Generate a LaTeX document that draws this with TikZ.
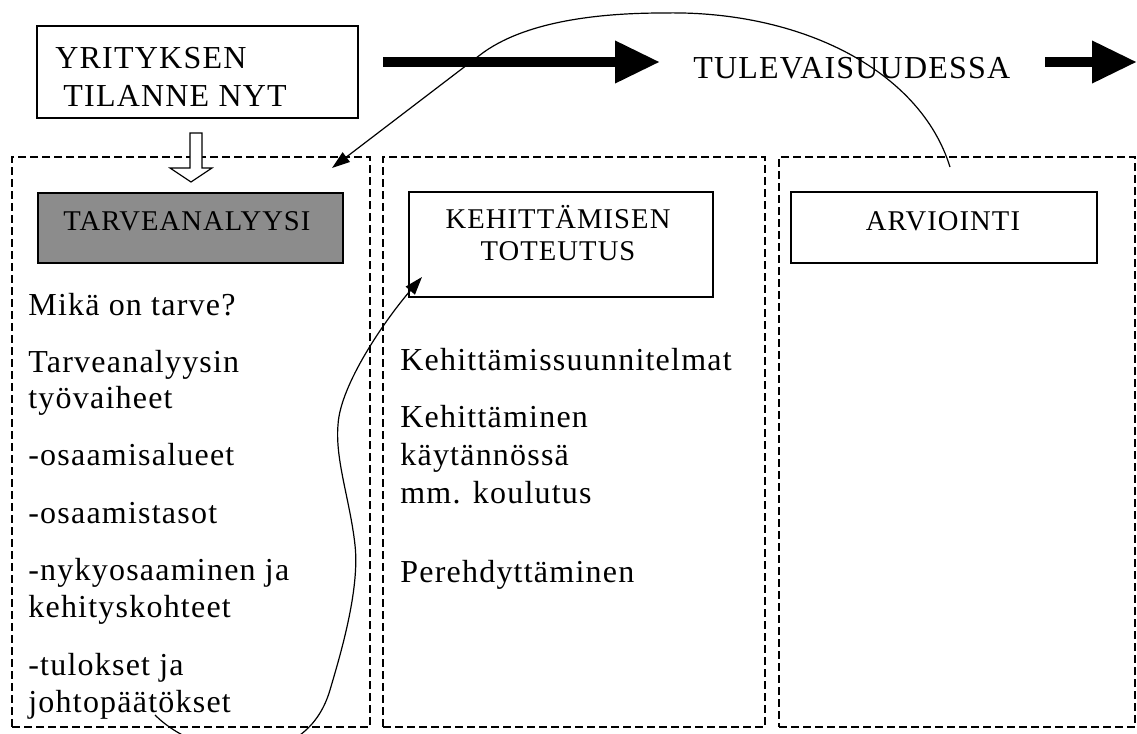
\documentclass[tikz,border=0pt]{standalone}
\usepackage{fontspec}
\setmainfont{Liberation Serif}[LetterSpace=3.8]
\usetikzlibrary{arrows.meta}

\begin{document}
\begin{tikzpicture}[x=0.5pt,y=-0.5pt]
        \tikzstyle{frame}=[draw=black,line width=0.7pt,dash pattern=on 4pt off 2pt,inner sep=0pt]
        \tikzstyle{box}=[draw=black,line width=0.7pt,inner sep=0pt]
        \tikzstyle{body}=[inner sep=0pt,anchor=base west,font=\fontsize{16}{19}\selectfont]
        \tikzstyle{title}=[inner sep=0pt,anchor=base,font=\fontsize{14.3}{17}\selectfont]
        \tikzstyle{bigarrow}=[line width=5pt,-{Triangle[length=22.5pt,width=20pt]}]
        \tikzstyle{thin}=[line width=0.6pt,-{Triangle[length=9pt,width=6pt]}]

        \useasboundingbox (0,0) rectangle (1137,734);

        % the three columns
        \node [frame, minimum width=179pt, minimum height=285pt] (left) at (191,442) {};
        \node [frame, minimum width=191pt, minimum height=285pt] (mid) at (574,442) {};
        \node [frame, minimum width=178pt, minimum height=285pt] (right) at (957,442) {};

        % boxes
        \node [box, minimum width=160.5pt, minimum height=46pt] (now) at (197.5,72) {};
        \node [box, fill=black!45, minimum width=152.5pt, minimum height=35pt] (need) at (190.5,228) {};
        \node [box, minimum width=152pt, minimum height=52.5pt] (dev) at (561,244.5) {};
        \node [box, minimum width=153pt, minimum height=35.5pt] (eval) at (944,227.5) {};

        \node [body] (now1) at (55,68) {YRITYKSEN};
        \node [body] (now2) at (63,106) {TILANNE NYT};
        \node [body] (future) at (693,78) {TULEVAISUUDESSA};
        \node [title] (needtxt) at (187,230) {TARVEANALYYSI};
        \node [title] (dev1) at (558,228) {KEHITTÄMISEN};
        \node [title] (dev2) at (558,260) {TOTEUTUS};
        \node [title] (evaltxt) at (943,230) {ARVIOINTI};

        % column texts
        \foreach \yy/\txt [count=\i] in {315/Mikä on tarve?, 372/Tarveanalyysin, 408/työvaiheet,
            465/-osaamisalueet, 523/-osaamistasot, 580/-nykyosaaminen ja, 617/kehityskohteet,
            675/-tulokset ja, 712/johtopäätökset}
          \node [body] (l\i) at (28,\yy) {\txt};
        \foreach \yy/\txt [count=\i] in {370/Kehittämissuunnitelmat, 427/Kehittäminen,
            465/käytännössä, 503/mm. koulutus, 582/Perehdyttäminen}
          \node [body] (m\i) at (400,\yy) {\txt};

        % thick arrows
        \coordinate (a1s) at (383,62);
        \coordinate (a1e) at (660,62);
        \coordinate (a2s) at (1045,62);
        \coordinate (a2e) at (1137,62);
        \draw [bigarrow] (a1s) -- (a1e);
        \draw [bigarrow] (a2s) -- (a2e);

        % hollow arrow down
        \draw [line width=0.6pt, fill=white] (190,133) -- (202,133) -- (202,168) -- (212,168)
              -- (191,182) -- (170,168) -- (190,168) -- cycle;

        % curved arrows
        \coordinate (c1s) at (950,167);
        \coordinate (c1e) at (332,168);
        \draw [thin] (c1s) .. controls (920,70) and (800,10) .. (663,13)
              .. controls (600,13) and (524,21) .. (480,55) -- (c1e);
        \coordinate (c2s) at (155,715);
        \coordinate (c2e) at (422,277);
        \draw [thin] (c2s) .. controls (200,760) and (305,775) .. (330,690)
              .. controls (340,656) and (360,590) .. (355,545)
              .. controls (350,500) and (335,460) .. (338,425)
              .. controls (340,385) and (385,320) .. (c2e);
\end{tikzpicture}
\end{document}
